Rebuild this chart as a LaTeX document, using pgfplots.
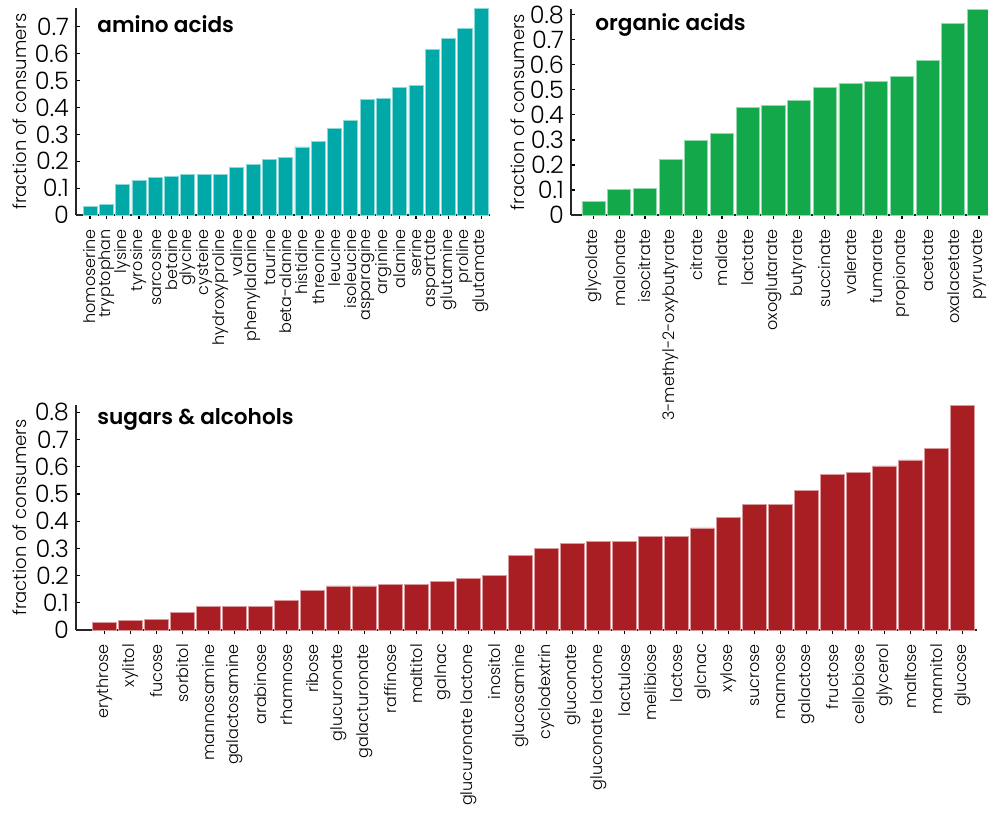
\documentclass[border=0pt]{standalone}
\usepackage{pgfplots}
\pgfplotsset{compat=1.18}
\usepackage{fontspec}
\setmainfont{Poppins}[UprightFont=* Light, BoldFont=* SemiBold]

\definecolor{aminoc}{RGB}{0,169,168}
\definecolor{organc}{RGB}{19,168,74}
\definecolor{sugarc}{RGB}{169,30,35}

\tikzset{
  paneltitle/.style={anchor=west, inner sep=0pt, font=\bfseries\fontsize{10.8}{10.8}\selectfont},
}

\pgfplotsset{
  panel/.style={
    scale only axis,
    axis x line*=bottom,
    axis y line*=left,
    axis line style={line width=0.7pt, black!85},
    major tick style={line width=0.6pt, black},
    major tick length=2pt,
    ymin=0,
    xtick=data,
    ytick distance=0.1,
    enlargelimits=false,
    /pgf/number format/assume math mode=true,
    /pgf/number format/fixed,
    /pgf/number format/precision=1,
    yticklabel style={font=\fontsize{12}{12}\selectfont},
    xticklabel style={font=\fontsize{8}{8}\selectfont, rotate=90, anchor=east, xshift=-1.5pt},
    ylabel={fraction of consumers},
    ylabel style={font=\fontsize{9}{9}\selectfont, anchor=center},
    ybar,
  },
}

\begin{document}
\begin{tikzpicture}
\path[use as bounding box] (0,0) rectangle (494pt,-407.5pt);

% amino acids
\begin{axis}[panel,
  at={(38pt,-107.5pt)}, anchor=south west,
  width=207pt, height=103.5pt,
  xmin=-0.86, xmax=24.54, ymax=0.77,
  ylabel style={at={(axis description cs:-0.135,0.5)}},
  bar width=0.86,
  xticklabels={homoserine,tryptophan,lysine,tyrosine,sarcosine,betaine,glycine,cysteine,hydroxyproline,valine,phenylalanine,taurine,beta-alanine,histidine,threonine,leucine,isoleucine,asparagine,arginine,alanine,serine,aspartate,glutamine,proline,glutamate},
]
\addplot[fill=aminoc, draw=aminoc!45!white, line width=0.4pt] coordinates {
(0,0.033) (1,0.040) (2,0.114) (3,0.130) (4,0.140) (5,0.145) (6,0.151) (7,0.151)
(8,0.151) (9,0.177) (10,0.188) (11,0.208) (12,0.214) (13,0.253) (14,0.272)
(15,0.322) (16,0.353) (17,0.429) (18,0.434) (19,0.476) (20,0.481) (21,0.615)
(22,0.657) (23,0.694) (24,0.770)};
\node[paneltitle] at (rel axis cs:0,1) [xshift=10.5pt, yshift=-8pt] {amino acids};
\end{axis}

% organic acids
\begin{axis}[panel,
  at={(285.5pt,-107.5pt)}, anchor=south west,
  width=208.5pt, height=103pt,
  xmin=-0.875, xmax=15.35, ymax=0.823,
  ylabel style={at={(axis description cs:-0.128,0.5)}},
  bar width=0.9,
  xticklabels={glycolate,malonate,isocitrate,3-methyl-2-oxybutyrate,citrate,malate,lactate,oxoglutarate,butyrate,succinate,valerate,fumarate,propionate,acetate,oxalacetate,pyruvate},
]
\addplot[fill=organc, draw=organc!45!white, line width=0.4pt] coordinates {
(0,0.053) (1,0.102) (2,0.106) (3,0.223) (4,0.299) (5,0.326) (6,0.428) (7,0.439)
(8,0.456) (9,0.508) (10,0.524) (11,0.534) (12,0.555) (13,0.619) (14,0.764) (15,0.823)};
\node[paneltitle] at (rel axis cs:0,1) [xshift=12pt, yshift=-8pt] {organic acids};
\end{axis}

% sugars and alcohols
\begin{axis}[panel,
  at={(38pt,-315pt)}, anchor=south west,
  width=450.5pt, height=112.5pt,
  xmin=-1.1, xmax=33.55, ymax=0.827,
  ylabel style={at={(axis description cs:-0.062,0.5)}},
  bar width=0.92,
  xticklabels={erythrose,xylitol,fucose,sorbitol,mannosamine,galactosamine,arabinose,rhamnose,ribose,glucuronate,galacturonate,raffinose,maltitol,galnac,glucuronate lactone,inositol,glucosamine,cyclodextrin,gluconate,gluconate lactone,lactulose,melibiose,lactose,glcnac,xylose,sucrose,mannose,galactose,fructose,cellobiose,glycerol,maltose,mannitol,glucose},
]
\addplot[fill=sugarc, draw=sugarc!45!white, line width=0.4pt] coordinates {
(0,0.029) (1,0.034) (2,0.040) (3,0.066) (4,0.088) (5,0.088) (6,0.088) (7,0.109)
(8,0.147) (9,0.162) (10,0.162) (11,0.167) (12,0.167) (13,0.178) (14,0.189) (15,0.199)
(16,0.274) (17,0.300) (18,0.318) (19,0.327) (20,0.327) (21,0.343) (22,0.343) (23,0.375)
(24,0.413) (25,0.461) (26,0.461) (27,0.513) (28,0.572) (29,0.578) (30,0.603) (31,0.625)
(32,0.668) (33,0.827)};
\node[paneltitle] at (rel axis cs:0,1) [xshift=10.5pt, yshift=-7pt] {sugars \& alcohols};
\end{axis}
\end{tikzpicture}
\end{document}
